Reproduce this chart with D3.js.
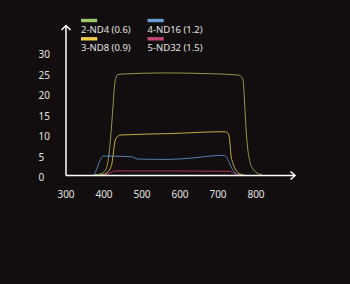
<!DOCTYPE html>
<html>
<head>
<meta charset="utf-8">
<script src="https://cdn.jsdelivr.net/npm/d3@7"></script>
<style>
  html, body { margin: 0; padding: 0; background: #120d0e; }
  svg { display: block; }
  text { font-family: "Noto Sans", "Open Sans", sans-serif; fill: #e2e2e2; }
</style>
</head>
<body>
<svg id="chart" width="350" height="284"></svg>
<script>
// Transmission spectra of ND filters: [wavelength nm, transmission %]
const seriesNames = ["2-ND4 (0.6)", "3-ND8 (0.9)", "4-ND16 (1.2)", "5-ND32 (1.5)"];
const seriesColors = ["#9cc66a", "#f0cf4c", "#6b9bd1", "#c8477a"];
const curveColors = ["#a3b456", "#e8c446", "#5c93cc", "#c23f6e"];

const nd4 = [
  [374, 0], [389, 0.24], [400, 0.73], [408, 2.2], [413, 4.9], [418, 9.8],
  [424, 17.1], [428, 22], [432, 23.9], [437, 24.5], [447, 24.6], [560, 24.9],
  [680, 24.7], [752, 24.4], [760, 24.1], [766, 23.2], [768, 20.7], [771, 15.9],
  [774, 11], [778, 6.6], [784, 3.2], [792, 1.5], [803, 0.5], [816, 0.1]
];
const nd8 = [
  [390, 0], [405, 0.37], [416, 1.5], [421, 2.9], [425, 5.6], [428, 7.8],
  [432, 9.0], [437, 9.5], [445, 9.76], [574, 10.1], [716, 10.56], [724, 10.4],
  [729, 9.5], [732, 7.3], [734, 4.9], [740, 2.7], [747, 1.2], [758, 0.24], [768, 0]
];
const nd16 = [
  [374, 0], [382, 1.7], [390, 3.7], [397, 4.6], [429, 4.6], [455, 4.5],
  [476, 4.4], [487, 3.9], [568, 3.8], [626, 4.1], [713, 4.8], [721, 4.5],
  [726, 3.7], [736, 1.7], [749, 0.24], [758, 0]
];
const nd32 = [
  [400, 0], [410, 0.24], [421, 0.73], [429, 0.98], [574, 0.98], [732, 0.9],
  [740, 0.5], [749, 0.12], [758, 0]
];
const seriesData = [nd4, nd8, nd16, nd32];

const xTicks = [300, 400, 500, 600, 700, 800];
const yTicks = [0, 5, 10, 15, 20, 25, 30];

const svg = d3.select("#chart");
const x = d3.scaleLinear().domain([300, 800]).range([66, 256]);
const y = d3.scaleLinear().domain([0, 30]).range([175, 52]);

// curves
const line = d3.line()
  .x(d => x(d[0]))
  .y(d => y(d[1]))
  .curve(d3.curveMonotoneX);

svg.append("g").selectAll("path")
  .data(seriesData)
  .join("path")
  .attr("d", line)
  .attr("fill", "none")
  .attr("stroke", (d, i) => curveColors[i])
  .attr("stroke-opacity", 0.85)
  .attr("stroke-width", 1);

// axes with arrow heads
const axisY0 = y(0) + 0.5;
const axes = svg.append("g")
  .attr("stroke", "#ffffff")
  .attr("stroke-width", 1.5)
  .attr("fill", "none");
axes.append("path").attr("d", `M${x(300)},${axisY0}H295`);
axes.append("path").attr("d", `M${x(300)},${axisY0}V25.5`);
axes.append("path").attr("d", `M290.5,171.5L295,${axisY0}L290.5,179.5`);
axes.append("path").attr("d", `M${x(300) - 4.5},30L${x(300)},25.5L${x(300) + 4.5},30`);

// tick labels
svg.append("g").selectAll("text")
  .data(xTicks)
  .join("text")
  .attr("x", d => x(d))
  .attr("y", 197.5)
  .attr("text-anchor", "middle")
  .attr("font-size", "10px")
  .text(d => d);

svg.append("g").selectAll("text")
  .data(yTicks)
  .join("text")
  .attr("x", 38.5)
  .attr("y", d => y(d) + 6)
  .attr("text-anchor", "start")
  .attr("font-size", "10px")
  .text(d => d);

// legend: two columns, swatch above label
const legend = svg.append("g").selectAll("g")
  .data(seriesNames)
  .join("g")
  .attr("transform", (d, i) => `translate(${i < 2 ? 81 : 147.5},${(i % 2) * 18.3})`);
legend.append("rect")
  .attr("x", 0).attr("y", 18.8)
  .attr("width", 16.2).attr("height", 3.4)
  .attr("fill", (d, i) => seriesColors[i]);
legend.append("text")
  .attr("x", 0).attr("y", 33)
  .attr("font-size", "9.5px")
  .text(d => d);
</script>
</body>
</html>
